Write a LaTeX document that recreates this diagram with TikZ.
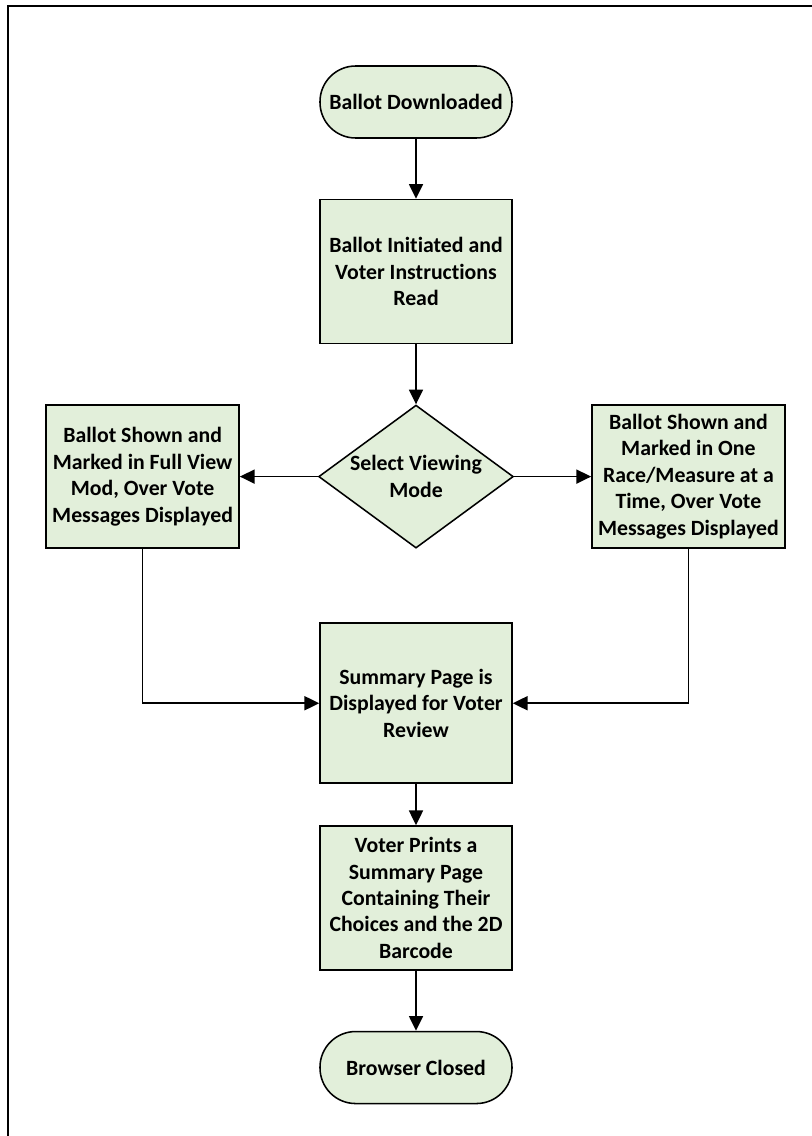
\documentclass[tikz,border=0pt]{standalone}
\usepackage{fontspec}
\setmainfont{Carlito}[Ligatures=NoCommon]
\usetikzlibrary{arrows.meta,positioning,shapes.geometric}
\definecolor{boxgreen}{HTML}{E2EFDA}
\begin{document}
\begin{tikzpicture}[node distance=1.5cm, every node/.style={font=\fontsize{15.5}{18.8}\selectfont\bfseries}, st/.style={draw, fill=boxgreen, line width=1.1pt, align=center, minimum width=4.8cm, minimum height=3.6cm, inner sep=2pt}, term/.style={st, rounded corners=0.89cm, minimum height=1.8cm}, dec/.style={draw, fill=boxgreen, line width=1.1pt, diamond, aspect=1.5, align=center, minimum width=4.8cm, minimum height=3.575cm, inner sep=0pt}, arr/.style={-{Triangle[length=10.5pt,width=10pt]}, line width=1.1pt}]
\useasboundingbox (0,0) rectangle (20.3,-28.4);
\draw[line width=1.1pt] (0.2,-28.4) -- (0.2,-0.15) -- (20.3,-0.15);
\node[term] (dl) at (10.4,-2.55) {Ballot Downloaded};
\node[st, below=of dl] (init) {Ballot Initiated and\\Voter Instructions\\Read};
\node[dec, below=of init] (mode) {Select Viewing\\Mode};
\node[st, left=1.95cm of mode, minimum width=4.825cm, minimum height=3.575cm] (full) {Ballot Shown and\\Marked in Full View\\Mod, Over Vote\\Messages Displayed};
\node[st, right=1.925cm of mode, minimum width=4.825cm, minimum height=3.575cm] (one) {Ballot Shown and\\Marked in One\\Race/Measure at a\\Time, Over Vote\\Messages Displayed};
\node[st, below=1.84cm of mode, minimum height=4cm] (sum) {Summary Page is\\Displayed for Voter\\Review};
\node[st, below=1.03cm of sum] (print) {Voter Prints a\\Summary Page\\Containing Their\\Choices and the 2D\\Barcode};
\node[term, below=of print] (closed) {Browser Closed};
\draw[arr] (dl)--(init); \draw[arr] (init)--(mode); \draw[arr] (mode)--(full); \draw[arr] (mode)--(one); \draw[arr] (full.south) |- (sum.west); \draw[arr] (one.south) |- (sum.east); \draw[arr] (sum)--(print); \draw[arr] (print)--(closed);
\end{tikzpicture}
\end{document}
